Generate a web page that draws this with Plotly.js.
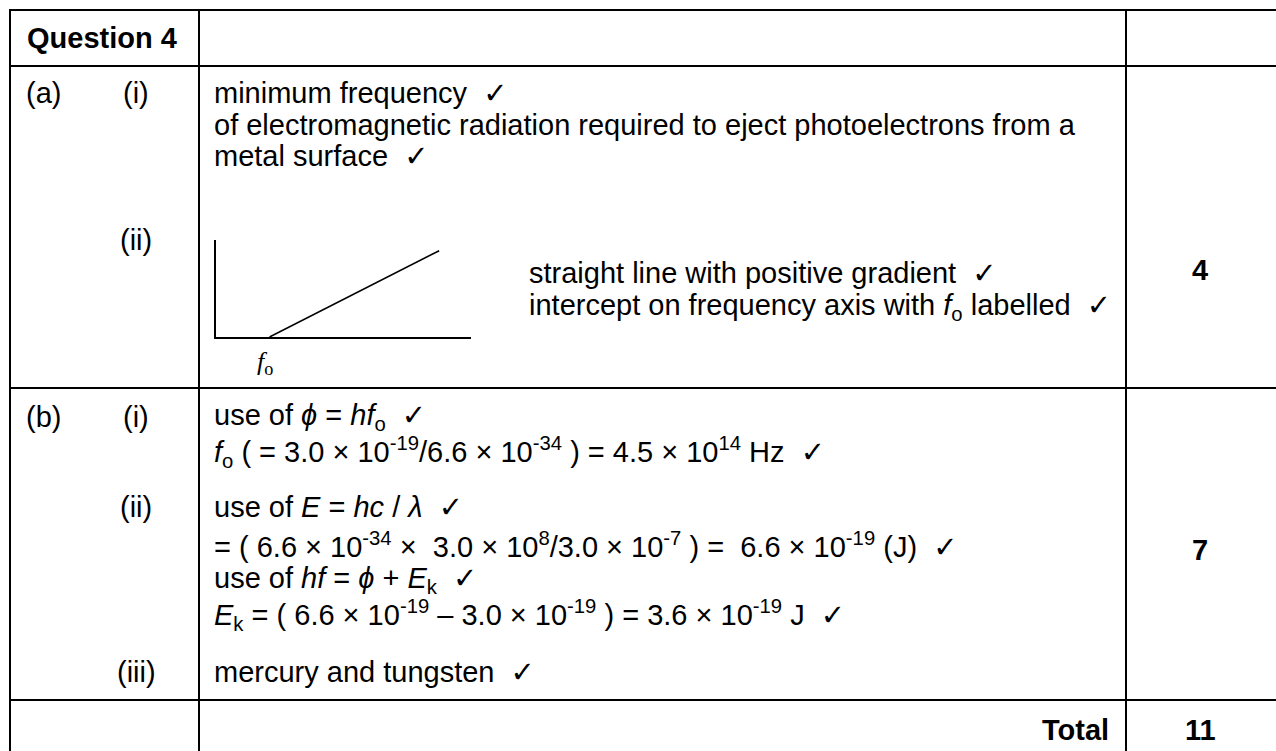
<!DOCTYPE html>
<html>
<head>
<meta charset="utf-8">
<script src="https://cdn.plot.ly/plotly-3.0.1.min.js"></script>
<style>
  html, body { margin: 0; padding: 0; background: #ffffff; }
  #chart { width: 1276px; height: 751px; }
</style>
</head>
<body>
<div id="chart"></div>
<script>
// ---------------- DATA ----------------
const questionTitle = 'Question 4';
const partLabels = ['(a)', '(b)'];
const subLabelsA = ['(i)', '(ii)'];
const subLabelsB = ['(i)', '(ii)', '(iii)'];

const answerAi = [
  'minimum frequency  ✓',
  'of electromagnetic radiation required to eject photoelectrons from a',
  'metal surface  ✓'
];
const answerAii = [
  'straight line with positive gradient  ✓',
  'intercept on frequency axis with <i>f</i><sub>o</sub> labelled  ✓'
];
const answerBi = [
  'use of <i>ϕ</i> = <i>hf</i><sub>o</sub>  ✓',
  '<i>f</i><sub>o</sub> ( = 3.0 × 10<sup>-19</sup>/6.6 × 10<sup>-34</sup> ) = 4.5 × 10<sup>14</sup> Hz  ✓'
];
const answerBii = [
  'use of <i>E</i> = <i>hc</i> / <i>λ</i>  ✓',
  '= ( 6.6 × 10<sup>-34</sup> ×  3.0 × 10<sup>8</sup>/3.0 × 10<sup>-7</sup> ) =  6.6 × 10<sup>-19</sup> (J)  ✓',
  'use of <i>hf</i> = <i>ϕ</i> + <i>E</i><sub>k</sub>  ✓',
  '<i>E</i><sub>k</sub> = ( 6.6 × 10<sup>-19</sup> – 3.0 × 10<sup>-19</sup> ) = 3.6 × 10<sup>-19</sup> J  ✓'
];
const answerBiii = ['mercury and tungsten  ✓'];

const marks = ['4', '7'];
const totalLabel = 'Total';
const totalMarks = '11';

// sketch graph (a)(ii): kinetic energy vs frequency, intercept at f0
const sketchFreq = [2.1, 8.75];
const sketchKE = [0, 8.9];
const sketchLabel = '<i>f</i><sub>o</sub>';

// ---------------- LAYOUT ----------------
const W = 1276, H = 751;
const FONT = 'Liberation Sans, Arial, DejaVu Sans, sans-serif';
const FS = 29;
const px = x => x / W;
const py = y => 1 - y / H;
const fixSpaces = t => t.replace(/  /g, ' \u00a0');

function ann(text, x, baseline, o) {
  o = o || {};
  const size = o.size || FS;
  return {
    text: fixSpaces(text),
    xref: 'paper', yref: 'paper',
    x: px(x), y: py(baseline - 0.35 * size),
    xanchor: o.anchor || 'left', yanchor: 'middle',
    showarrow: false, borderpad: 0,
    font: { family: o.family || FONT, size: size, color: '#000000', weight: o.bold ? 'bold' : 'normal' }
  };
}

const annotations = [];
annotations.push(ann(questionTitle, 26, 48, { bold: true }));

// part labels
const partPos = [[25, 103], [25, 427]];
partLabels.forEach((t, i) => annotations.push(ann(t, partPos[i][0], partPos[i][1])));

const subAPos = [103, 250];
subLabelsA.forEach((t, i) => annotations.push(ann(t, 136, subAPos[i], { anchor: 'center' })));
const subBPos = [427, 517, 682];
subLabelsB.forEach((t, i) => annotations.push(ann(t, 136, subBPos[i], { anchor: 'center' })));

function block(lines, x, baselines) {
  lines.forEach((t, i) => annotations.push(ann(t, x, baselines[i])));
}
block(answerAi, 213, [103, 135, 166]);
block(answerAii, 528, [283, 317]);
block(answerBi, 213, [427, 462]);
block(answerBii, 213, [517, 555, 590, 625]);
block(answerBiii, 213, [682]);

const markPos = [280, 560];
marks.forEach((t, i) => annotations.push(ann(t, 1200, markPos[i], { anchor: 'center', bold: true })));
annotations.push(ann(totalLabel, 1110, 740, { anchor: 'right', bold: true }));
annotations.push(ann(totalMarks, 1200, 740, { anchor: 'center', bold: true }));

// f0 label under sketch
annotations.push(ann(sketchLabel, 256, 372, { family: 'Liberation Serif, Times New Roman, serif', size: 26 }));

// table rules
const LW = 2;
function hline(y, x0, x1) {
  return { type: 'line', xref: 'paper', yref: 'paper', x0: px(x0), x1: px(x1), y0: py(y), y1: py(y), line: { color: '#000', width: LW } };
}
function vline(x, y0, y1) {
  return { type: 'line', xref: 'paper', yref: 'paper', x0: px(x), x1: px(x), y0: py(y0), y1: py(y1), line: { color: '#000', width: LW } };
}
const shapes = [
  hline(10, 9, 1280), hline(66, 9, 1280), hline(388, 9, 1280), hline(700, 9, 1280),
  vline(10, 9, 760), vline(199, 9, 760), vline(1126, 9, 760)
];

const traces = [{
  type: 'scatter', mode: 'lines',
  x: sketchFreq, y: sketchKE,
  line: { color: '#000000', width: 1.6 },
  cliponaxis: false, hoverinfo: 'skip', showlegend: false
}];

const layout = {
  width: W, height: H,
  margin: { l: 0, r: 0, t: 0, b: 0, pad: 0 },
  paper_bgcolor: '#ffffff', plot_bgcolor: 'rgba(0,0,0,0)',
  showlegend: false,
  xaxis: {
    domain: [px(216), px(471)], range: [0, 10],
    showline: true, linecolor: '#000', linewidth: 1.6,
    showgrid: false, zeroline: false, showticklabels: false, ticks: '', fixedrange: true
  },
  yaxis: {
    domain: [py(337), py(240)], range: [0, 10],
    showline: true, linecolor: '#000', linewidth: 1.6,
    showgrid: false, zeroline: false, showticklabels: false, ticks: '', fixedrange: true
  },
  shapes: shapes,
  annotations: annotations
};

Plotly.newPlot('chart', traces, layout, { staticPlot: true, displayModeBar: false });
</script>
</body>
</html>
